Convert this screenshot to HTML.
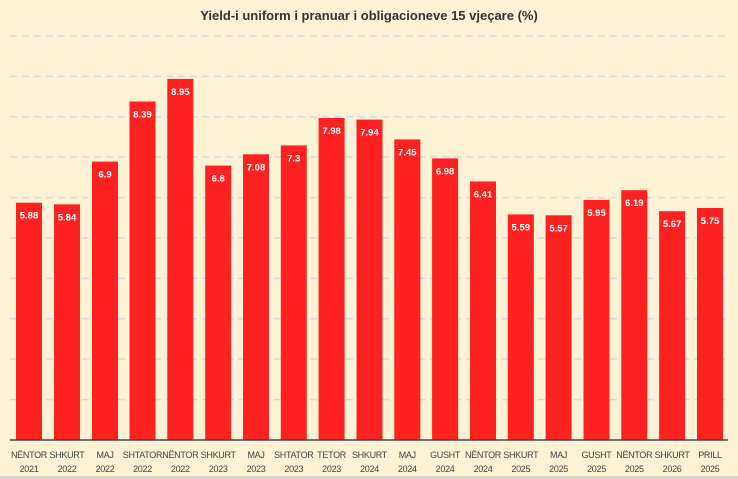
<!DOCTYPE html>
<html><head><meta charset="utf-8"><style>
body{margin:0;background:#fdf2d3;}
svg{display:block;font-family:"Liberation Sans",Arial,sans-serif;}
.v{fill:#fff;font-size:9.5px;font-weight:bold;text-anchor:middle;}
.c{fill:#444;font-size:9px;letter-spacing:-0.3px;text-anchor:middle;}
</style></head><body>
<svg width="738" height="479" viewBox="0 0 738 479">
<rect width="738" height="479" fill="#fdf2d3"/>
<rect x="0" y="476" width="738" height="3" fill="#d9d4c8"/>
<text x="369" y="20" text-anchor="middle" font-size="13" font-weight="bold" fill="#333">Yield-i uniform  i pranuar i obligacioneve 15 vjeçare (%)</text>
<g stroke="#d6dbdc" stroke-width="1.5" stroke-dasharray="7,5">
<line x1="10" x2="728" y1="36" y2="36"/><line x1="10" x2="728" y1="76.4" y2="76.4"/><line x1="10" x2="728" y1="116.8" y2="116.8"/><line x1="10" x2="728" y1="157" y2="157"/><line x1="10" x2="728" y1="197.6" y2="197.6"/><line x1="10" x2="728" y1="238" y2="238"/><line x1="10" x2="728" y1="278.4" y2="278.4"/><line x1="10" x2="728" y1="318.8" y2="318.8"/><line x1="10" x2="728" y1="359" y2="359"/><line x1="10" x2="728" y1="399.6" y2="399.6"/>
</g>
<g fill="#fe2121">
<rect x="16" y="202.7" width="26" height="237.3"/>
<rect x="54" y="204.4" width="26" height="235.6"/>
<rect x="92" y="161.6" width="26" height="278.4"/>
<rect x="129.5" y="101.5" width="26" height="338.5"/>
<rect x="167.3" y="78.9" width="26" height="361.1"/>
<rect x="205.2" y="165.6" width="26" height="274.4"/>
<rect x="243" y="154.3" width="26" height="285.7"/>
<rect x="280.8" y="145.4" width="26" height="294.6"/>
<rect x="318.6" y="118" width="26" height="322"/>
<rect x="356.5" y="119.6" width="26" height="320.4"/>
<rect x="394.3" y="139.4" width="26" height="300.6"/>
<rect x="432.1" y="158.4" width="26" height="281.6"/>
<rect x="470" y="181.4" width="26" height="258.6"/>
<rect x="507.8" y="214.4" width="26" height="225.6"/>
<rect x="545.6" y="215.3" width="26" height="224.7"/>
<rect x="583.5" y="199.9" width="26" height="240.1"/>
<rect x="621.3" y="190.2" width="26" height="249.8"/>
<rect x="659.1" y="211.2" width="26" height="228.8"/>
<rect x="697" y="208" width="26" height="232"/>
</g>
<g>
<text class="v" x="29" y="218.7">5.88</text>
<text class="v" x="67" y="220.4">5.84</text>
<text class="v" x="105" y="177.6">6.9</text>
<text class="v" x="142.5" y="117.5">8.39</text>
<text class="v" x="180.3" y="94.9">8.95</text>
<text class="v" x="218.2" y="181.6">6.8</text>
<text class="v" x="256" y="170.3">7.08</text>
<text class="v" x="293.8" y="161.4">7.3</text>
<text class="v" x="331.6" y="134">7.98</text>
<text class="v" x="369.5" y="135.6">7.94</text>
<text class="v" x="407.3" y="155.4">7.45</text>
<text class="v" x="445.1" y="174.4">6.98</text>
<text class="v" x="483" y="197.4">6.41</text>
<text class="v" x="520.8" y="230.4">5.59</text>
<text class="v" x="558.6" y="231.3">5.57</text>
<text class="v" x="596.5" y="215.9">5.95</text>
<text class="v" x="634.3" y="206.2">6.19</text>
<text class="v" x="672.1" y="227.2">5.67</text>
<text class="v" x="710" y="224">5.75</text>
</g>
<line x1="10" x2="728" y1="440" y2="440" stroke="#444" stroke-width="1.5"/>
<g>
<text class="c" x="29" y="458">NËNTOR</text><text class="c" x="29" y="472">2021</text>
<text class="c" x="67" y="458">SHKURT</text><text class="c" x="67" y="472">2022</text>
<text class="c" x="105" y="458">MAJ</text><text class="c" x="105" y="472">2022</text>
<text class="c" x="142.5" y="458">SHTATOR</text><text class="c" x="142.5" y="472">2022</text>
<text class="c" x="180.3" y="458">NËNTOR</text><text class="c" x="180.3" y="472">2022</text>
<text class="c" x="218.2" y="458">SHKURT</text><text class="c" x="218.2" y="472">2023</text>
<text class="c" x="256" y="458">MAJ</text><text class="c" x="256" y="472">2023</text>
<text class="c" x="293.8" y="458">SHTATOR</text><text class="c" x="293.8" y="472">2023</text>
<text class="c" x="331.6" y="458">TETOR</text><text class="c" x="331.6" y="472">2023</text>
<text class="c" x="369.5" y="458">SHKURT</text><text class="c" x="369.5" y="472">2024</text>
<text class="c" x="407.3" y="458">MAJ</text><text class="c" x="407.3" y="472">2024</text>
<text class="c" x="445.1" y="458">GUSHT</text><text class="c" x="445.1" y="472">2024</text>
<text class="c" x="483" y="458">NËNTOR</text><text class="c" x="483" y="472">2024</text>
<text class="c" x="520.8" y="458">SHKURT</text><text class="c" x="520.8" y="472">2025</text>
<text class="c" x="558.6" y="458">MAJ</text><text class="c" x="558.6" y="472">2025</text>
<text class="c" x="596.5" y="458">GUSHT</text><text class="c" x="596.5" y="472">2025</text>
<text class="c" x="634.3" y="458">NËNTOR</text><text class="c" x="634.3" y="472">2025</text>
<text class="c" x="672.1" y="458">SHKURT</text><text class="c" x="672.1" y="472">2026</text>
<text class="c" x="710" y="458">PRILL</text><text class="c" x="710" y="472">2025</text>
</g>
</svg>
</body></html>
